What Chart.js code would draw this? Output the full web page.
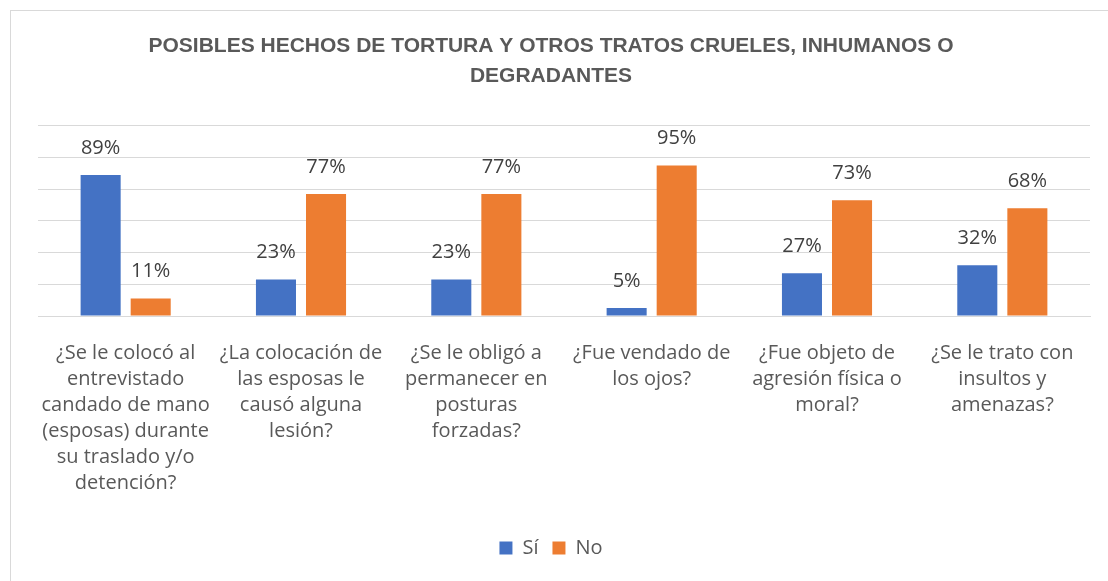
<!DOCTYPE html>
<html>
<head>
<meta charset="utf-8">
<script src="https://cdn.jsdelivr.net/npm/chart.js@4"></script>
<style>
  body { margin: 0; background: #fff; }
  #wrap { position: absolute; left: 10px; top: 10px; width: 1097px; height: 570px; border: 1px solid #d9d9d9; border-right: none; border-bottom: none; }
  canvas { display: block; }
</style>
</head>
<body>
<div id="wrap"><canvas id="chart" width="1097" height="570"></canvas></div>
<script>
  const categories = [
    ['¿Se le colocó al', 'entrevistado', 'candado de mano', '(esposas) durante', 'su traslado y/o', 'detención?'],
    ['¿La colocación de', 'las esposas le', 'causó alguna', 'lesión?'],
    ['¿Se le obligó a', 'permanecer en', 'posturas', 'forzadas?'],
    ['¿Fue vendado de', 'los ojos?'],
    ['¿Fue objeto de', 'agresión física o', 'moral?'],
    ['¿Se le trato con', 'insultos y', 'amenazas?']
  ];
  const siValues = [89, 23, 23, 5, 27, 32];
  const noValues = [11, 77, 77, 95, 73, 68];

  const labelFont = '"Open Sans", Lato, sans-serif';

  // etiquetas de valor encima de cada barra
  const barLabels = {
    id: 'barLabels',
    afterDatasetsDraw(chart) {
      const ctx = chart.ctx;
      ctx.save();
      ctx.font = '20px ' + labelFont;
      ctx.fillStyle = '#404040';
      ctx.textAlign = 'center';
      ctx.textBaseline = 'middle';
      chart.data.datasets.forEach((ds, i) => {
        chart.getDatasetMeta(i).data.forEach((bar, j) => {
          ctx.fillText(ds.data[j] + '%', bar.x, bar.y - 27);
        });
      });
      ctx.restore();
    }
  };

  new Chart(document.getElementById('chart'), {
    type: 'bar',
    data: {
      labels: categories,
      datasets: [
        { label: 'Sí', data: siValues, backgroundColor: '#4472c4', barPercentage: 0.8, categoryPercentage: 0.571 },
        { label: 'No', data: noValues, backgroundColor: '#ed7d31', barPercentage: 0.8, categoryPercentage: 0.571 }
      ]
    },
    options: {
      responsive: false,
      animation: false,
      layout: { padding: { left: 1, right: 18, top: 14, bottom: 13 } },
      plugins: {
        title: {
          display: true,
          text: ['POSIBLES HECHOS DE TORTURA Y OTROS TRATOS CRUELES, INHUMANOS O', 'DEGRADANTES'],
          color: '#595959',
          font: { family: '"Liberation Sans Narrow", "Liberation Sans", Arial, sans-serif', size: 21, weight: 'bold', lineHeight: 1.45 },
          padding: { top: 6, bottom: 34 }
        },
        legend: {
          position: 'bottom',
          labels: {
            color: '#595959',
            font: { family: labelFont, size: 20 },
            boxWidth: 13,
            boxHeight: 13,
            padding: 14
          }
        },
        tooltip: { enabled: false }
      },
      scales: {
        x: {
          grid: { display: false },
          border: { color: '#d9d9d9' },
          afterFit(scale) { scale.height += 12; },
          ticks: {
            color: '#595959',
            font: { family: labelFont, size: 20, lineHeight: 1.3 },
            maxRotation: 0,
            autoSkip: false,
            padding: 16
          }
        },
        y: {
          min: 0,
          max: 120,
          afterFit(scale) { scale.width = 26; },
          ticks: { display: false, stepSize: 20 },
          grid: { color: '#d9d9d9', drawTicks: false },
          border: { display: false }
        }
      }
    },
    plugins: [barLabels]
  });
</script>
</body>
</html>
